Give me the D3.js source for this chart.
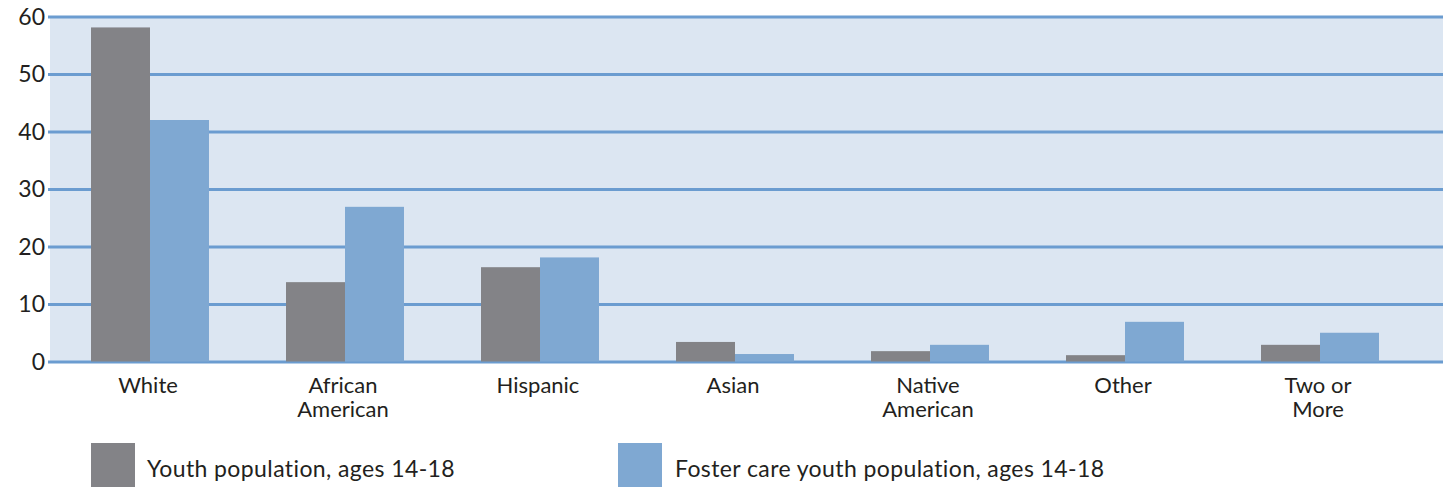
<html>
<head>
<script src="https://d3js.org/d3.v7.min.js"></script>
<style>
  body { margin: 0; background: #fff; }
  text { font-family: Lato, "DejaVu Sans", sans-serif; fill: #231f20; }
</style>
</head>
<body>
<svg id="chart" width="1443" height="487"></svg>
<script>

// data
var categories = ["White", "African American", "Hispanic", "Asian", "Native American", "Other", "Two or More"];
var labelLines = [["White"], ["African", "American"], ["Hispanic"], ["Asian"], ["Native", "American"], ["Other"], ["Two or", "More"]];
var youthPop = [58.1, 13.8, 16.4, 3.4, 1.8, 1.1, 2.9];
var fosterPop = [42.0, 26.9, 18.1, 1.3, 2.9, 6.9, 5.0];
var seriesNames = ["Youth population, ages 14-18", "Foster care youth population, ages 14-18"];
var yTicks = [0, 10, 20, 30, 40, 50, 60];

var svg = d3.select("#chart");

// plot box
var plotLeft = 50, plotRight = 1443, plotTop = 16.5, plotBottom = 361.5;
var colors = ["#838387", "#7fa8d2"];
var fontSize = "23px";

var x = d3.scaleBand()
  .domain(categories)
  .range([52.5, 1417.5])
  .paddingInner(0.395)
  .paddingOuter(0.1975);

var xs = d3.scaleBand()
  .domain([0, 1])
  .range([0, x.bandwidth()]);

var y = d3.scaleLinear()
  .domain([0, 60])
  .range([plotBottom, plotTop]);

// plot background
svg.append("rect")
  .attr("x", plotLeft)
  .attr("y", y(60))
  .attr("width", plotRight - plotLeft)
  .attr("height", y(0) - y(60))
  .style("fill", "#dce6f2");

// gridlines
svg.append("g")
  .attr("transform", "translate(" + 48 + ",0)")
  .call(d3.axisLeft(y).tickValues(yTicks).tickSize(-(plotRight - 48)).tickFormat(""))
  .call(function(g) { g.select(".domain").remove(); })
  .selectAll("line")
    .style("stroke", "#6b9cd0")
    .style("stroke-width", 2.8);

// tick labels
svg.append("g")
  .selectAll("text")
  .data(yTicks)
  .enter().append("text")
    .attr("x", 45)
    .attr("y", function(d) { return y(d); })
    .attr("dy", "0.36em")
    .attr("text-anchor", "end")
    .style("font-size", fontSize)
    .text(function(d) { return d; });

// bars
var rows = categories.map(function(c, i) {
  return { cat: c, vals: [youthPop[i], fosterPop[i]] };
});

var groups = svg.append("g")
  .selectAll("g")
  .data(rows)
  .enter().append("g")
    .attr("transform", function(d) { return "translate(" + x(d.cat) + ",0)"; });

groups.selectAll("rect")
  .data(function(d) { return d.vals; })
  .enter().append("rect")
    .attr("x", function(d, i) { return xs(i); })
    .attr("y", function(d) { return y(d); })
    .attr("width", xs.bandwidth())
    .attr("height", function(d) { return y(0) - y(d); })
    .style("fill", function(d, i) { return colors[i]; });

// category labels
var labels = svg.append("g")
  .selectAll("text")
  .data(categories)
  .enter().append("text")
    .attr("x", function(d) { return x(d) + x.bandwidth() / 2 - 2; })
    .attr("y", 393)
    .attr("text-anchor", "middle")
    .style("font-size", "22px");

labels.selectAll("tspan")
  .data(function(d, i) { return labelLines[i]; })
  .enter().append("tspan")
    .attr("x", function() { return d3.select(this.parentNode).attr("x"); })
    .attr("dy", function(d, i) { return i == 0 ? 0 : 24; })
    .text(function(d) { return d; });

// legend
var legendX = [91, 618];
var legend = svg.append("g")
  .selectAll("g")
  .data(seriesNames)
  .enter().append("g")
    .attr("transform", function(d, i) { return "translate(" + legendX[i] + ",443)"; });

legend.append("rect")
  .attr("width", 44)
  .attr("height", 44)
  .style("fill", function(d, i) { return colors[i]; });

legend.append("text")
  .attr("x", function(d, i) { return i == 0 ? 56 : 57; })
  .attr("y", 34)
  .style("font-size", fontSize)
  .style("letter-spacing", "0.4px")
  .text(function(d) { return d; });

</script>
</body>
</html>
